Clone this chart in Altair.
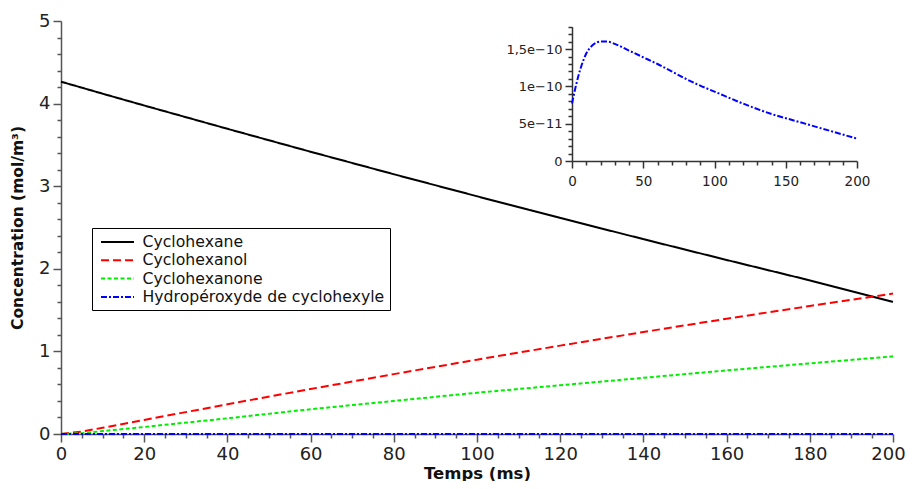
import altair as alt
import pandas as pd

# ---- data ----
T_MAIN = [0, 5, 10, 20, 40, 60, 80, 100, 120, 140, 160, 180, 200]
CYCLOHEXANE = [4.265, 4.193, 4.120, 3.977, 3.695, 3.417, 3.145, 2.878, 2.616, 2.359, 2.107, 1.860, 1.600]
CYCLOHEXANOL = [0.0, 0.03, 0.075, 0.17, 0.36, 0.545, 0.725, 0.90, 1.07, 1.235, 1.395, 1.55, 1.70]
CYCLOHEXANONE = [0.0, 0.01, 0.035, 0.085, 0.19, 0.30, 0.40, 0.50, 0.59, 0.68, 0.77, 0.855, 0.94]

T_INSET = [0, 3, 6, 10, 15, 20, 25, 30, 40, 50, 60, 70, 80, 90, 100, 120, 140, 160, 180, 200]
HYDROPEROXYDE = [7.7e-11, 10.3e-11, 12.4e-11, 14.4e-11, 15.6e-11, 16.0e-11, 16.0e-11, 15.7e-11,
                 14.8e-11, 13.9e-11, 13.0e-11, 12.0e-11, 11.0e-11, 10.1e-11, 9.3e-11, 7.7e-11,
                 6.3e-11, 5.2e-11, 4.1e-11, 3.0e-11]

SERIES = ["Cyclohexane", "Cyclohexanol", "Cyclohexanone", "Hydropéroxyde de cyclohexyle"]
COLORS = ["#000000", "#ff0000", "#00ee00", "#0000ff"]
DASHES = [[1, 0], [8, 4], [4, 2.5], [6, 2, 2, 2]]

X_TICKS = [i * 5 for i in range(41)]
Y_TICKS = [round(i * 0.2, 1) for i in range(26)]
INSET_X_TICKS = [i * 10 for i in range(21)]
INSET_Y_TICKS = [i * 1e-11 for i in range(19)]
INSET_Y_LABELS = ["0", "5e−11", "1e−10", "1,5e−10"]

rows = []
for s, vals in zip(SERIES[:3], [CYCLOHEXANE, CYCLOHEXANOL, CYCLOHEXANONE]):
    for t, v in zip(T_MAIN, vals):
        rows.append({"t": t, "c": v, "Espece": s})
for t, v in zip(T_INSET, HYDROPEROXYDE):
    rows.append({"t": t, "c": v, "Espece": SERIES[3]})
main_df = pd.DataFrame(rows)
inset_df = pd.DataFrame({"t": T_INSET, "c": HYDROPEROXYDE})

W, H = 832, 413
FONT = "DejaVu Sans"

legend = alt.Legend(title=None, orient="none", legendX=31, legendY=207,
                    symbolType="M-2.0625,0H2.0625", symbolSize=256, symbolStrokeWidth=2,
                    symbolOffset=11.5, labelOffset=16, labelLimit=400,
                    labelFont=FONT, labelFontSize=15.7, labelColor="#111",
                    rowPadding=1.3, padding=5,
                    strokeColor="#000", fillColor="#fff", cornerRadius=0)

main = alt.Chart(main_df).mark_line(strokeWidth=2, clip=False).encode(
    x=alt.X("t:Q", scale=alt.Scale(domain=[0, 200], nice=False),
            axis=alt.Axis(title="Temps (ms)", values=X_TICKS, grid=False,
                          labelExpr="datum.value % 20 == 0 ? datum.label : ''",
                          format="d", labelFlush=False,
                          labelOffset={"condition": {"test": "datum.value == 200", "value": -5}, "value": 0},
                          tickSize={"condition": {"test": "datum.value % 20 == 0", "value": 8}, "value": 4},
                          tickColor="#555", domainColor="#555", domainWidth=1.5, tickWidth=1.5,
                          labelFont=FONT, labelFontSize=18, labelColor="#222", labelPadding=3,
                          titleFont=FONT, titleFontSize=16.5, titleFontWeight="bold", titleColor="#111",
                          titlePadding=2, labelOverlap=False)),
    y=alt.Y("c:Q", scale=alt.Scale(domain=[0, 5], nice=False),
            axis=alt.Axis(title="Concentration (mol/m³)", values=Y_TICKS, grid=False,
                          labelExpr="abs(datum.value - round(datum.value)) < 1e-6 ? format(datum.value, 'd') : ''",
                          tickSize={"condition": {"test": "abs(datum.value - round(datum.value)) < 1e-6", "value": 8}, "value": 4},
                          tickColor="#555", domainColor="#555", domainWidth=1.5, tickWidth=1.5,
                          labelFont=FONT, labelFontSize=18, labelColor="#222", labelPadding=3,
                          titleFont=FONT, titleFontSize=15.5, titleFontWeight="bold", titleColor="#111",
                          titlePadding=13, labelOverlap=False)),
    color=alt.Color("Espece:N", scale=alt.Scale(domain=SERIES, range=COLORS), legend=legend),
    strokeDash=alt.StrokeDash("Espece:N", scale=alt.Scale(domain=SERIES, range=DASHES), legend=legend),
    order=alt.Order("t:Q"),
)

IX0, IX1 = 511, 796
IY0, IY1 = 140, 5.7

inset = alt.Chart(inset_df).mark_line(strokeWidth=2, color="#0000ff", strokeDash=[6, 2, 2, 2],
                                       interpolate="monotone").encode(
    x=alt.X("t:Q", scale=alt.Scale(domain=[0, 200], nice=False, range=[IX0, IX1]),
            axis=alt.Axis(title=None, orient="bottom", offset=-(H - IY0), values=INSET_X_TICKS, grid=False,
                          labelExpr="datum.value % 50 == 0 ? datum.label : ''", format="d",
                          labelFlush=False,
                          tickSize={"condition": {"test": "datum.value % 50 == 0", "value": 7}, "value": 4},
                          tickColor="#333", domainColor="#333", domainWidth=1.5, tickWidth=1.5,
                          labelFont=FONT, labelFontSize=13.5, labelColor="#222", labelPadding=6,
                          labelOverlap=False)),
    y=alt.Y("c:Q", scale=alt.Scale(domain=[0, 1.8e-10], nice=False, range=[IY0, IY1]),
            axis=alt.Axis(title=None, orient="left", offset=-IX0, values=INSET_Y_TICKS, grid=False,
                          labelExpr="abs(datum.value/5e-11 - round(datum.value/5e-11)) < 1e-6 ? "
                                    + str(INSET_Y_LABELS) + "[round(datum.value/5e-11)] : ''",
                          tickSize={"condition": {"test": "abs(datum.value/5e-11 - round(datum.value/5e-11)) < 1e-6", "value": 7}, "value": 4},
                          tickColor="#333", domainColor="#333", domainWidth=1.5, tickWidth=1.5,
                          labelFont=FONT, labelFontSize=13, labelColor="#222", labelPadding=3,
                          labelOverlap=False)),
)

chart = alt.layer(main, inset).resolve_scale(x="independent", y="independent").properties(
    width=W, height=H,
    autosize=alt.AutoSizeParams(type="none"),
    padding={"left": 53, "top": 13, "right": 12, "bottom": 47},
).configure_view(stroke=None)

chart.save("out.html", embed_options={"renderer": "svg", "actions": False})
